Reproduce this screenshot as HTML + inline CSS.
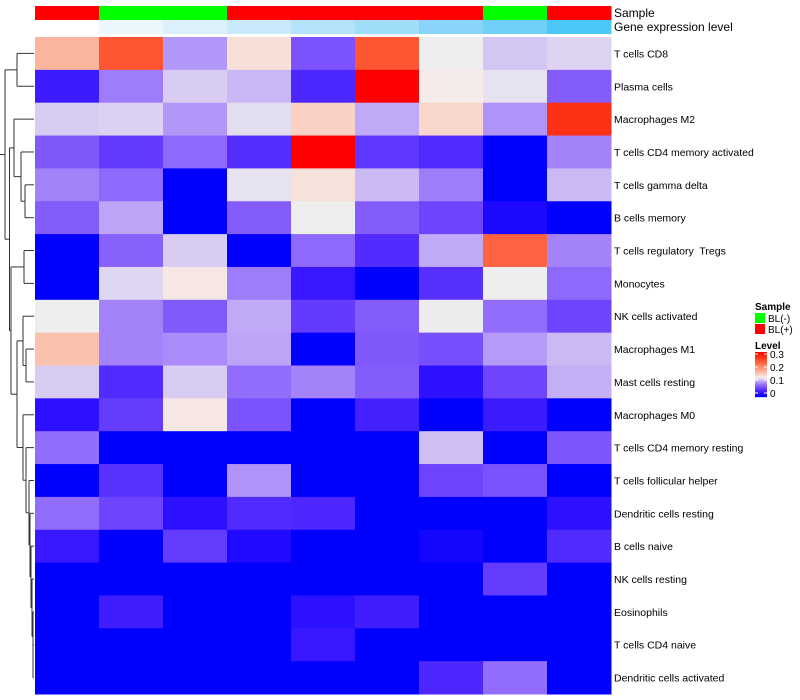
<!DOCTYPE html>
<html><head><meta charset="utf-8"><style>
html,body{margin:0;padding:0;background:#fff;}
svg{display:block;font-family:"Liberation Sans",sans-serif;}
text{white-space:pre;}
</style></head><body>
<svg id="chart" width="800" height="700" viewBox="0 0 800 700" xmlns="http://www.w3.org/2000/svg"></svg>
<script>
const rowLabels = ["T cells CD8","Plasma cells","Macrophages M2","T cells CD4 memory activated","T cells gamma delta","B cells memory","T cells regulatory  Tregs","Monocytes","NK cells activated","Macrophages M1","Mast cells resting","Macrophages M0","T cells CD4 memory resting","T cells follicular helper","Dendritic cells resting","B cells naive","NK cells resting","Eosinophils","T cells CD4 naive","Dendritic cells activated"];
const sampleGroups = ["BL(+)","BL(-)","BL(-)","BL(+)","BL(+)","BL(+)","BL(+)","BL(-)","BL(+)"];
const geneLevel = [0,1,2,3,4,5,6,7,8];
const values = [
 [0.171,0.239,0.098,0.141,0.067,0.239,0.130,0.116,0.121],
 [0.033,0.087,0.118,0.110,0.041,0.300,0.132,0.126,0.072],
 [0.118,0.120,0.098,0.124,0.150,0.105,0.147,0.096,0.266],
 [0.070,0.054,0.078,0.046,0.300,0.052,0.044,0.000,0.089],
 [0.089,0.078,0.000,0.126,0.139,0.111,0.087,0.000,0.111],
 [0.072,0.103,0.000,0.072,0.130,0.072,0.060,0.016,0.000],
 [0.000,0.074,0.118,0.000,0.078,0.045,0.105,0.229,0.089],
 [0.000,0.122,0.135,0.087,0.031,0.000,0.048,0.130,0.078],
 [0.130,0.089,0.071,0.105,0.054,0.072,0.129,0.080,0.060],
 [0.162,0.089,0.093,0.103,0.000,0.070,0.065,0.099,0.111],
 [0.118,0.045,0.118,0.080,0.089,0.072,0.025,0.060,0.107],
 [0.024,0.055,0.135,0.067,0.000,0.038,0.000,0.033,0.000],
 [0.080,0.000,0.000,0.000,0.000,0.000,0.113,0.000,0.069],
 [0.000,0.049,0.000,0.096,0.000,0.000,0.060,0.067,0.000],
 [0.080,0.060,0.024,0.044,0.042,0.000,0.000,0.000,0.024],
 [0.031,0.000,0.055,0.017,0.000,0.000,0.011,0.000,0.044],
 [0.000,0.000,0.000,0.000,0.000,0.000,0.000,0.055,0.000],
 [0.000,0.035,0.000,0.000,0.024,0.035,0.000,0.000,0.000],
 [0.000,0.000,0.000,0.000,0.031,0.000,0.000,0.000,0.000],
 [0.000,0.000,0.000,0.000,0.000,0.000,0.042,0.080,0.000]
];
const levelTicks = [0,0.1,0.2,0.3];
const geneColors = ["#ffffff","#ebf6fd","#dcf0fc","#c8eafb","#b3e3fa","#a0ddf9","#88d5f9","#6fcff7","#4bc8f6"];
const tree = [[0,1,17],[[2,[3,[4,5,25],21],14],[[6,7,24],[[8,[9,10,26],23],[11,[12,[13,[14,[15,[16,[17,[18,19,33],33],32],31],30],29],26],23],17],11],9.5],5];

const NS="http://www.w3.org/2000/svg";
const svg=document.getElementById('chart');
const X0=35,X1=611,Y0=37,Y1=694;
const cw=(X1-X0)/sampleGroups.length, rh=(Y1-Y0)/rowLabels.length;
const VMAX=0.3, MID=0.13;
function xPos(j){return X0+j*cw;}
function yPos(i){return Y0+i*rh;}
function color(v){
  let r,g,b;
  if(v<=MID){const f=Math.max(0,v)/MID;r=238*f;g=238*Math.pow(f,1.6);b=255-17*Math.pow(f,3);}
  else{const f=Math.min(1,(v-MID)/(VMAX-MID));g=238*(1-f);b=g*Math.sqrt(g/238);r=238+17*Math.pow(f,0.2);}
  return `rgb(${Math.round(r)},${Math.round(g)},${Math.round(b)})`;
}
function el(tag,attrs,parent){const e=document.createElementNS(NS,tag);for(const k in attrs)e.setAttribute(k,attrs[k]);(parent||svg).appendChild(e);return e;}

sampleGroups.forEach((s,j)=>{
  const r=el('rect',{x:xPos(j),y:6,width:cw+0.5,height:14,fill:s==="BL(+)"?"#ff0000":"#00ff00"});
  
  
});
geneLevel.forEach((g,j)=>{
  const r=el('rect',{x:xPos(j),y:20,width:cw+0.5,height:14,fill:geneColors[g]});
  
  
});
let t=el('text',{x:614,y:17,'font-size':12,fill:'#000'});t.textContent="Sample";


t=el('text',{x:614,y:31,'font-size':12,fill:'#000'});t.textContent="Gene expression level";



values.forEach((row,i)=>{
  row.forEach((v,j)=>{
    const r=el('rect',{x:xPos(j),y:yPos(i),width:cw+0.5,height:rh+0.5,fill:color(v)});
    
    
  });
  const lt=el('text',{x:614,y:yPos(i)+rh/2+4,'font-size':10.5,fill:'#000'});
  lt.textContent=rowLabels[i];
  
  
});

const dg=el('g',{stroke:'#333','stroke-width':1,fill:'none'});


function draw(node){
  if(typeof node==="number")return {y:yPos(node)+rh/2,x:34};
  const a=draw(node[0]),b=draw(node[1]),x=node[2];
  el('line',{x1:x,y1:a.y,x2:a.x,y2:a.y},dg);
  el('line',{x1:x,y1:b.y,x2:b.x,y2:b.y},dg);
  el('line',{x1:x,y1:a.y,x2:x,y2:b.y},dg);
  return {y:(a.y+b.y)/2,x:x};
}
const root=draw(tree);
el('line',{x1:0,y1:root.y,x2:root.x,y2:root.y},dg);

const lg=el('g',{});


t=el('text',{x:755,y:310,'font-size':10,'font-weight':'bold'},lg);t.textContent="Sample";
[["BL(-)","#00ff00"],["BL(+)","#ff0000"]].forEach((d,k)=>{
  const r=el('rect',{x:755,y:313+k*11,width:10,height:10,fill:d[1]},lg);
  
  
  const tx=el('text',{x:768,y:322+k*11,'font-size':10},lg);tx.textContent=d[0];
  
  
});
t=el('text',{x:755,y:349,'font-size':10,'font-weight':'bold'},lg);t.textContent="Level";
const barTop=352,barBot=397;
for(let k=0;k<45;k++){
  const v=VMAX*(1-(k+0.5)/45);
  el('rect',{x:755,y:barTop+k,width:12,height:1.2,fill:color(v)},lg);
}
levelTicks.forEach(v=>{
  const y=barBot-4-(barBot-4-(barTop+2))*v/VMAX;
  el('line',{x1:755,y1:y,x2:758,y2:y,stroke:'#fff'},lg);
  el('line',{x1:764,y1:y,x2:767,y2:y,stroke:'#fff'},lg);
  const tx=el('text',{x:770,y:y+4,'font-size':10},lg);tx.textContent=String(v);
  
  
});
</script>
</body></html>
